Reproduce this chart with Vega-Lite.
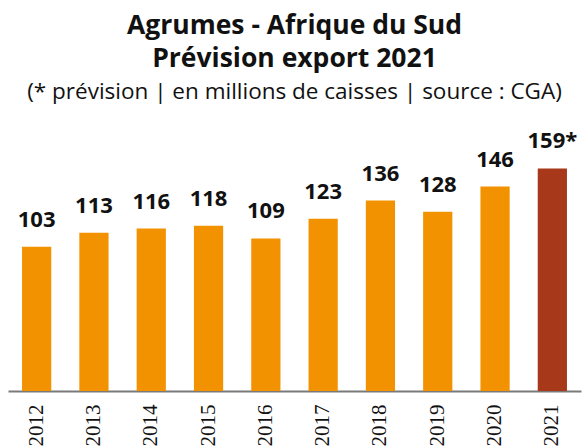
{
  "$schema": "https://vega.github.io/schema/vega-lite/v6.json",
  "width": 573,
  "height": 252,
  "autosize": "none",
  "padding": {"top": 139, "left": 8, "right": 2, "bottom": 57},
  "background": "white",
  "title": {
    "text": ["Agrumes - Afrique du Sud", "Prévision export 2021"],
    "subtitle": "(* prévision | en millions de caisses | source : CGA)",
    "anchor": "middle",
    "frame": "group",
    "font": "Open Sans",
    "fontSize": 26.5,
    "fontWeight": "bold",
    "lineHeight": 33,
    "color": "#111111",
    "subtitleFont": "Open Sans",
    "subtitleFontSize": 22.5,
    "subtitleColor": "#111111",
    "subtitlePadding": 8,
    "offset": 27
  },
  "data": {
    "values": [
      {"year": "2012", "value": 103, "label": "103", "type": "réel"},
      {"year": "2013", "value": 113, "label": "113", "type": "réel"},
      {"year": "2014", "value": 116, "label": "116", "type": "réel"},
      {"year": "2015", "value": 118, "label": "118", "type": "réel"},
      {"year": "2016", "value": 109, "label": "109", "type": "réel"},
      {"year": "2017", "value": 123, "label": "123", "type": "réel"},
      {"year": "2018", "value": 136, "label": "136", "type": "réel"},
      {"year": "2019", "value": 128, "label": "128", "type": "réel"},
      {"year": "2020", "value": 146, "label": "146", "type": "réel"},
      {"year": "2021", "value": 159, "label": "159*", "type": "prévision"}
    ]
  },
  "encoding": {
    "x": {
      "field": "year",
      "type": "ordinal",
      "scale": {"paddingInner": 0.49, "paddingOuter": 0.245},
      "axis": {
        "title": null,
        "labelAngle": -90,
        "ticks": false,
        "labelPadding": 13,
        "labelFont": "Liberation Sans Narrow",
        "labelFontSize": 21,
        "labelColor": "#111111",
        "domainColor": "#7a7a7a",
        "domainWidth": 2
      }
    },
    "y": {
      "field": "value",
      "type": "quantitative",
      "scale": {"domain": [0, 180]},
      "axis": null
    }
  },
  "layer": [
    {
      "mark": {"type": "bar"},
      "encoding": {
        "color": {
          "field": "type",
          "type": "nominal",
          "scale": {"domain": ["réel", "prévision"], "range": ["#F39200", "#A8381A"]},
          "legend": null
        }
      }
    },
    {
      "mark": {
        "type": "text",
        "baseline": "alphabetic",
        "align": "center",
        "dy": -20,
        "font": "Open Sans",
        "fontWeight": "bold",
        "fontSize": 22,
        "color": "#111111"
      },
      "encoding": {
        "text": {"field": "label", "type": "nominal"}
      }
    }
  ],
  "config": {
    "view": {"stroke": null}
  }
}
